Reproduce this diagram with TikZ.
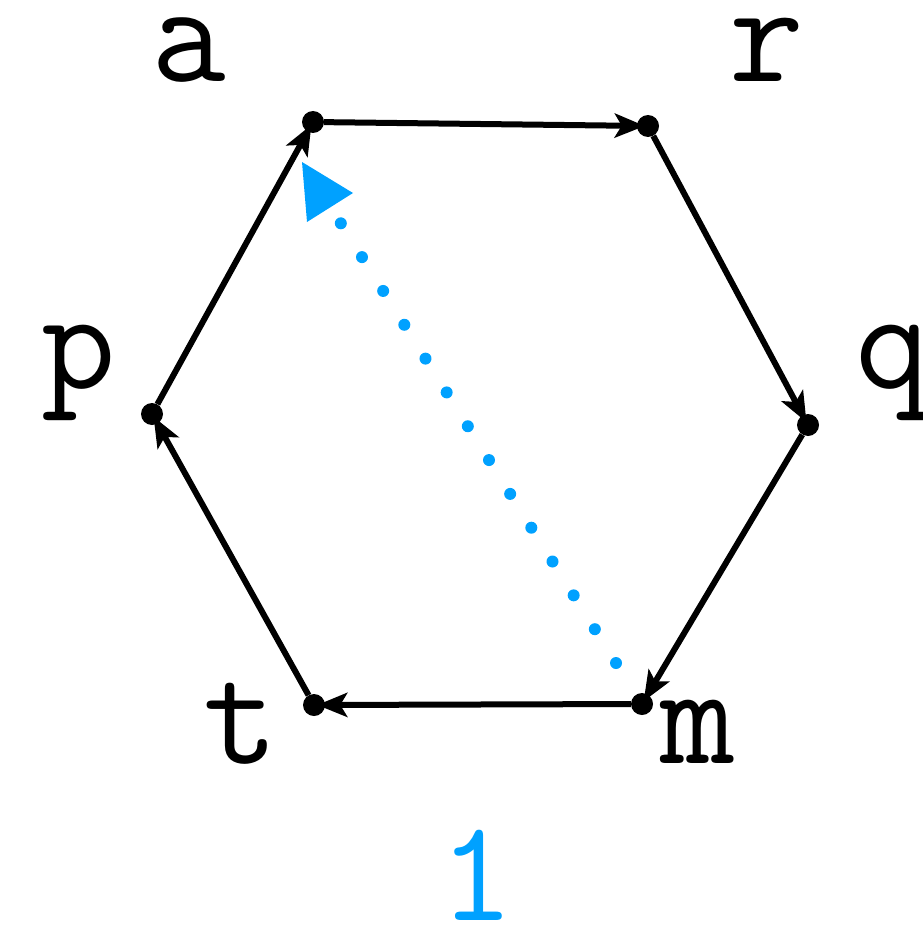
\documentclass[tikz,border=0pt]{standalone}
\usetikzlibrary{arrows.meta}
\definecolor{hexblue}{RGB}{0,161,255}
\tikzset{
  vtx/.style={circle,fill=black,inner sep=0pt,minimum size=22pt},
  edge/.style={draw=black,line width=6pt,-{Stealth[length=30pt,width=24pt,inset=7pt]},shorten >=-8pt},
  lbl/.style={inner sep=0pt,anchor=base,font=\ttfamily\fontsize{145}{150}\selectfont},
  blueline/.style={draw=hexblue,line width=12pt,line cap=round,dash pattern=on 0pt off 39.9pt},
}
\begin{document}
\begin{tikzpicture}[x=1pt,y=-1pt]
\useasboundingbox (0,0) rectangle (922,931);
% vertices
\node[vtx] (a) at (313,122) {};
\node[vtx] (r) at (648,126) {};
\node[vtx] (q) at (808,425) {};
\node[vtx] (m) at (642,704) {};
\node[vtx] (t) at (314,705) {};
\node[vtx] (p) at (152,414) {};
% edges
\draw[edge] (a) -- (r);
\draw[edge] (r) -- (q);
\draw[edge] (q) -- (m);
\draw[edge] (m) -- (t);
\draw[edge] (t) -- (p);
\draw[edge] (p) -- (a);
% blue dotted arrow
\coordinate (bs) at (616,663);
\coordinate (be) at (340,222);
\draw[blueline] (bs) -- (be);
\fill[hexblue] (302,162) -- (353,193) -- (307,222) -- cycle;
% labels
\node[lbl] (la) at (189,82) {a};
\node[lbl] (lr) at (767,82) {r};
\node[lbl] (lp) at (79,388) {p};
\node[lbl] (lq) at (893,388) {q};
\node[lbl] (lt) at (241,763) {t};
\node[lbl] (lm) at (698,763) {m};
\node[lbl,text=hexblue] (l1) at (477,920) {1};
\end{tikzpicture}
\end{document}
